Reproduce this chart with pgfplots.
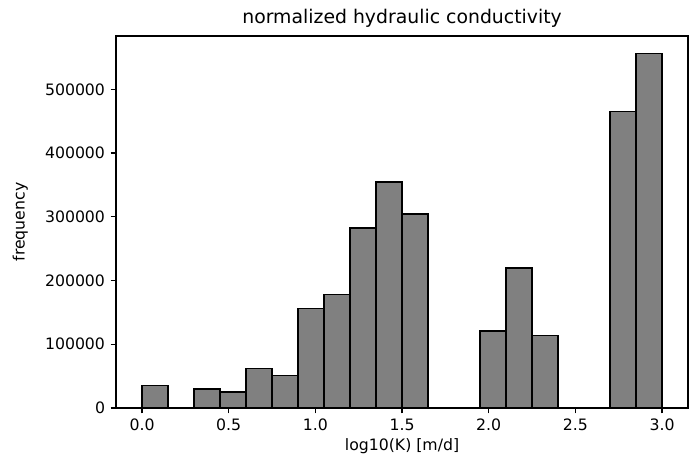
\documentclass[border=0pt]{standalone}
\usepackage{fontspec}
\setmainfont{DejaVu Sans}
\usepackage{pgfplots}
\pgfplotsset{compat=1.18}
\begin{document}
\begin{tikzpicture}
\begin{axis}[
  scale only axis,
  width=364.3pt, height=236.9pt,
  xmin=-0.15, xmax=3.15,
  ymin=0, ymax=583800,
  xtick={0,0.5,1,1.5,2,2.5,3},
  ytick={0,100000,200000,300000,400000,500000},
  scaled y ticks=false,
  scaled x ticks=false,
  /pgf/number format/assume math mode=true,
  xticklabel style={/pgf/number format/fixed,/pgf/number format/fixed zerofill,/pgf/number format/precision=1},
  yticklabel style={/pgf/number format/fixed,/pgf/number format/precision=0,/pgf/number format/1000 sep={}},
  tick label style={font=\fontsize{10}{12}\selectfont},
  label style={font=\fontsize{10}{12}\selectfont},
  title style={font=\fontsize{12}{14}\selectfont, yshift=-4pt},
  tick align=outside,
  tick pos=left,
  major tick length=3.5pt,
  every tick/.style={black, line width=0.8pt},
  axis line style={line width=0.8pt},
  title={normalized hydraulic conductivity},
  xlabel={log10(K) [m/d]},
  ylabel={frequency},
  xlabel style={yshift=2pt},
  ylabel style={yshift=4pt},
]
\addplot[ybar interval, fill=gray, draw=black, line width=1pt] coordinates {
(0.00,35000) (0.15,0) (0.30,30000) (0.45,25000) (0.60,62000)
(0.75,51000) (0.90,156000) (1.05,178000) (1.20,282000) (1.35,355000)
(1.50,304000) (1.65,0) (1.80,0) (1.95,121000) (2.10,220000)
(2.25,114000) (2.40,0) (2.55,0) (2.70,465000) (2.85,556000) (3.00,0)
};
\end{axis}
\pgfresetboundingbox
\path ([shift={(-73.9pt,-34.4pt)}]current axis.south west) rectangle ([shift={(0.6pt,22.9pt)}]current axis.north east);
\end{tikzpicture}
\end{document}
